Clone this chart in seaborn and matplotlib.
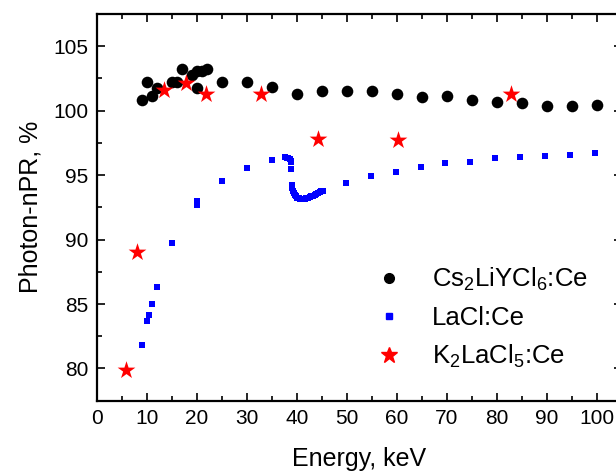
import matplotlib
matplotlib.use("Agg")
import matplotlib.pyplot as plt
import seaborn as sns
import pandas as pd
from matplotlib.ticker import MultipleLocator
from matplotlib.lines import Line2D

# ---- data ----
cs_energy = [9, 10, 11, 12, 15, 16, 17, 19, 20, 20, 21, 22, 25, 30, 35, 40, 45, 50,
             55, 60, 65, 70, 75, 80, 85, 90, 95, 100]
cs_npr = [100.8, 102.2, 101.1, 101.75, 102.25, 102.25, 103.2, 102.8, 103.05, 101.75,
          103.1, 103.2, 102.2, 102.2, 101.8, 101.3, 101.55, 101.55, 101.5, 101.3,
          101.05, 101.1, 100.85, 100.65, 100.6, 100.35, 100.35, 100.45]

la_energy = [8.9, 9.9, 10.4, 10.9, 11.9, 14.9, 19.9, 19.9, 24.9, 29.9, 34.9,
             37.6, 37.9, 38.2, 38.5, 38.7, 38.75, 38.7,
             39.0, 39.05, 39.1, 39.3, 39.5, 39.7, 40.0, 40.3, 40.5, 40.8, 41.1, 41.5,
             41.8, 42.1, 42.5, 42.8, 43.1, 43.5, 43.8, 44.1, 44.5, 44.8, 45.1,
             49.8, 54.8, 59.7, 64.7, 69.6, 74.6, 79.6, 84.6, 89.5, 94.5, 99.5]
la_npr = [81.8, 83.65, 84.15, 85.0, 86.3, 89.7, 92.7, 93.0, 94.55, 95.55, 96.15,
          96.4, 96.35, 96.3, 96.25, 96.1, 96.0, 95.5,
          94.2, 94.0, 93.8, 93.6, 93.45, 93.35, 93.25, 93.2, 93.17, 93.15, 93.15, 93.15,
          93.2, 93.25, 93.3, 93.35, 93.4, 93.45, 93.52, 93.6, 93.66, 93.73, 93.8,
          94.41, 94.96, 95.27, 95.66, 95.97, 96.05, 96.31, 96.44, 96.49, 96.57, 96.7]

k_energy = [5.75, 7.9, 13.3, 17.7, 21.7, 32.7, 44.1, 60.2, 82.7]
k_npr = [79.9, 89.0, 101.6, 102.15, 101.3, 101.3, 97.8, 97.75, 101.3]

labels = [r"Cs$_2$LiYCl$_6$:Ce", "LaCl:Ce", r"K$_2$LaCl$_5$:Ce"]
xticks = list(range(0, 101, 10))
yticks = [80, 85, 90, 95, 100, 105]

# ---- style ----
sns.set_theme(style="ticks")
plt.rcParams["font.family"] = ["Liberation Sans", "DejaVu Sans"]
plt.rcParams["mathtext.fontset"] = "custom"
plt.rcParams["mathtext.rm"] = "Liberation Sans"
plt.rcParams["mathtext.it"] = "Liberation Sans"
plt.rcParams["mathtext.default"] = "regular"
plt.rcParams["text.color"] = "black"
plt.rcParams["axes.labelcolor"] = "black"

fig = plt.figure(figsize=(6.16, 4.72), dpi=100)
ax = fig.add_axes([97 / 616, 71.3 / 472, 525 / 616, 386.7 / 472])

df_cs = pd.DataFrame({"E": cs_energy, "P": cs_npr})
df_la = pd.DataFrame({"E": la_energy, "P": la_npr})
df_k = pd.DataFrame({"E": k_energy, "P": k_npr})

sns.scatterplot(data=df_cs, x="E", y="P", ax=ax, color="black", marker="o",
                s=70, linewidth=0, zorder=3)
sns.scatterplot(data=df_la, x="E", y="P", ax=ax, color="#0000ff", marker="s",
                s=22, linewidth=0, zorder=2)
sns.scatterplot(data=df_k, x="E", y="P", ax=ax, color="#ff0000", marker="*",
                s=180, linewidth=0, zorder=4)

ax.set_xlim(0, 105)
ax.set_ylim(77.5, 107.5)
ax.set_xticks(xticks)
ax.set_yticks(yticks)
ax.xaxis.set_minor_locator(MultipleLocator(5))
ax.yaxis.set_minor_locator(MultipleLocator(2.5))
ax.tick_params(which="both", direction="in", top=True, right=True, width=1.2,
               labelsize=15, colors="black")
ax.tick_params(which="major", length=6, pad=6)
ax.tick_params(which="minor", length=3.6)
for sp in ax.spines.values():
    sp.set_linewidth(1.6)
    sp.set_color("black")

ax.set_xlabel("Energy, keV", fontsize=18, labelpad=14, color="black")
ax.set_ylabel("Photon-nPR, %", fontsize=18, labelpad=8, color="black")

handles = [
    Line2D([], [], linestyle="none", marker="o", color="black", markersize=7),
    Line2D([], [], linestyle="none", marker="s", color="#0000ff", markersize=4),
    Line2D([], [], linestyle="none", marker="*", color="#ff0000", markersize=12),
]
leg = ax.legend(handles, labels, loc="upper left",
                bbox_to_anchor=(370 / 616, 1 - 266 / 472), bbox_transform=fig.transFigure,
                frameon=False, fontsize=18.5, handletextpad=0.9, labelspacing=0.5,
                borderaxespad=0, borderpad=0, handlelength=1.5)
for t in leg.get_texts():
    t.set_color("black")

fig.savefig("out.png", dpi=100)
